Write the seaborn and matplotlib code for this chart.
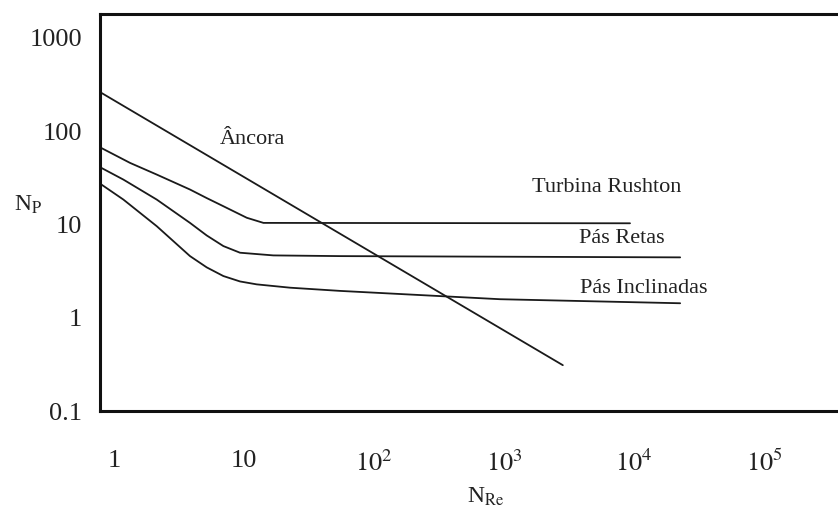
import matplotlib
matplotlib.use("Agg")
import matplotlib.pyplot as plt
import seaborn as sns
import pandas as pd

# ---- data (log-log, N_Re vs N_P) ----
ancora_re = [0.78, 40.5, 2830]
ancora_np = [263, 10.2, 0.31]

rushton_re = [0.80, 1.33, 2.13, 3.84, 5.16, 6.93, 10.5, 14.1, 9300]
rushton_np = [66.0, 45.7, 34.3, 23.7, 19.2, 15.7, 11.8, 10.4, 10.3]

retas_re = [0.80, 1.18, 2.13, 3.84, 5.16, 6.93, 9.31, 16.8, 54.8, 22600]
retas_np = [40.4, 30.3, 18.5, 10.4, 7.63, 5.87, 4.98, 4.66, 4.58, 4.44]

incl_re = [0.80, 1.18, 2.13, 3.84, 5.16, 6.93, 9.31, 12.5, 22.6, 54.8, 931, 22600]
incl_np = [26.8, 18.5, 9.59, 4.58, 3.47, 2.80, 2.45, 2.28, 2.10, 1.94, 1.58, 1.43]

curve_names = ["Âncora", "Turbina Rushton", "Pás Retas", "Pás Inclinadas"]
label_re = [11.7, 6200, 8090, 11900]
label_np = [81, 24.9, 7.08, 2.07]

x_ticks = [1, 10, 100, 1000, 10000, 100000]
x_ticklabels = ["1", "10", r"$10^2$", r"$10^3$", r"$10^4$", r"$10^5$"]
y_ticks = [0.1, 1, 10, 100, 1000]
y_ticklabels = ["0.1", "1", "10", "100", "1000"]

frames = []
for name, xs, ys in [("Âncora", ancora_re, ancora_np),
                     ("Turbina Rushton", rushton_re, rushton_np),
                     ("Pás Retas", retas_re, retas_np),
                     ("Pás Inclinadas", incl_re, incl_np)]:
    frames.append(pd.DataFrame({"NRe": xs, "NP": ys, "curve": name}))
df = pd.concat(frames, ignore_index=True)

sns.set_style("white")
plt.rcParams["font.family"] = ["Liberation Serif", "DejaVu Serif"]
plt.rcParams["mathtext.fontset"] = "stix"

fig = plt.figure(figsize=(8.38, 5.09), dpi=100)
ax = fig.add_axes([100 / 838, 1 - 411 / 509, 738 / 838, 397 / 509])

sns.lineplot(data=df, x="NRe", y="NP", hue="curve", units="curve",
             estimator=None, sort=False, palette=["#1a1a1a"] * 4,
             linewidth=1.3, legend=False, ax=ax)

ax.set_xscale("log")
ax.set_yscale("log")
ax.set_xlim(0.78, 370000)
ax.set_ylim(0.1, 1807)

ax.set_xticks(x_ticks)
ax.set_xticklabels(x_ticklabels)
ax.set_yticks(y_ticks)
ax.set_yticklabels(y_ticklabels)
ax.minorticks_off()
ax.tick_params(axis="both", length=0, labelsize=19, colors="#222222")
ax.tick_params(axis="x", pad=28)
ax.tick_params(axis="y", pad=13)

for side in ["left", "top", "bottom"]:
    ax.spines[side].set_visible(True)
    ax.spines[side].set_linewidth(2.2)
    ax.spines[side].set_color("#111111")
ax.spines["right"].set_visible(False)

ax.set_xlabel("")
ax.set_ylabel("")
ax.text(0.522, -0.215, r"N$_{\mathrm{Re}}$", transform=ax.transAxes,
        ha="center", va="center", fontsize=17, color="#222222")
ax.text(-0.098, 0.52, r"N$_{\mathrm{P}}$", transform=ax.transAxes,
        ha="center", va="center", fontsize=17, color="#222222")

for name, lx, ly in zip(curve_names, label_re, label_np):
    ax.text(lx, ly, name, ha="center", va="center", fontsize=16,
            color="#222222")

fig.savefig("out.png", dpi=100)
